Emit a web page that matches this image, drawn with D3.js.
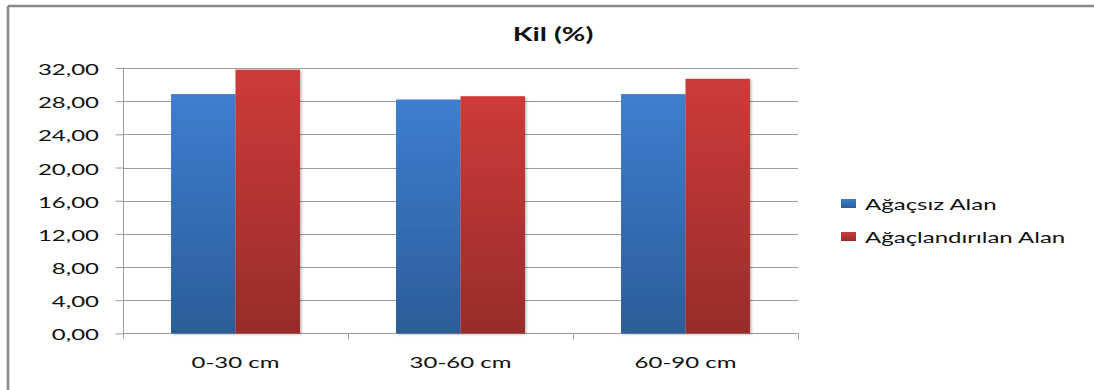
<!DOCTYPE html>
<html>
<head>
<meta charset="utf-8">
<script src="https://cdn.jsdelivr.net/npm/d3@7"></script>
<style>
  html, body { margin: 0; padding: 0; background: #fff; }
  svg { display: block; }
  text { font-family: Lato, "Open Sans", sans-serif; fill: #111; }
</style>
</head>
<body>
<svg id="chart" width="1094" height="390"></svg>
<script>
// Clay content (%) by soil depth
const categories = ["0-30 cm", "30-60 cm", "60-90 cm"];
const seriesNames = ["Ağaçsız Alan", "Ağaçlandırılan Alan"];
const agacsizAlan = [28.85, 28.2, 28.85];
const agaclandirilanAlan = [31.8, 28.6, 30.7];
const yTicks = [0, 4, 8, 12, 16, 20, 24, 28, 32];
const yTickLabels = ["0,00", "4,00", "8,00", "12,00", "16,00", "20,00", "24,00", "28,00", "32,00"];
const title = "Kil (%)";

const seriesValues = [agacsizAlan, agaclandirilanAlan];
const colors = [
  { top: "#3d7ecf", bottom: "#2c5c99" },
  { top: "#cd3b38", bottom: "#982c2a" }
];

const svg = d3.select("#chart");
const W = 1094, H = 390;
const stretch = 1.6; // wide text proportions

const plot = { left: 123, right: 798, top: 68, bottom: 333.4 };

// Frame
svg.append("line").attr("x1", 8).attr("x2", W).attr("y1", 6).attr("y2", 6)
  .attr("stroke", "#8a8a8a").attr("stroke-width", 2.4);
svg.append("line").attr("x1", 8).attr("x2", 8).attr("y1", 6).attr("y2", H)
  .attr("stroke", "#8a8a8a").attr("stroke-width", 2.6);

// Scales
const y = d3.scaleLinear().domain([0, 32]).range([plot.bottom, plot.top]);
const x0 = d3.scaleBand().domain(categories).range([plot.left, plot.right]).padding(0);
const groupFrac = 0.573;
const bw = x0.bandwidth();
const x1 = d3.scaleBand().domain(seriesNames)
  .range([bw * (1 - groupFrac) / 2, bw * (1 + groupFrac) / 2]).padding(0);

// Defs: gradients and a soft bar shadow
const defs = svg.append("defs");
colors.forEach((c, i) => {
  const g = defs.append("linearGradient").attr("id", "grad" + i)
    .attr("x1", 0).attr("y1", 0).attr("x2", 0).attr("y2", 1);
  g.append("stop").attr("offset", "0%").attr("stop-color", c.top);
  g.append("stop").attr("offset", "100%").attr("stop-color", c.bottom);
});
const f = defs.append("filter").attr("id", "shadow")
  .attr("x", "-10%").attr("y", "-5%").attr("width", "125%").attr("height", "115%");
f.append("feDropShadow").attr("dx", 1.5).attr("dy", 1).attr("stdDeviation", 1.2)
  .attr("flood-color", "#000").attr("flood-opacity", 0.28);

// Gridlines
svg.append("g").selectAll("line").data(yTicks.filter(d => d > 0)).join("line")
  .attr("x1", plot.left).attr("x2", plot.right)
  .attr("y1", d => Math.round(y(d)) + 0.5).attr("y2", d => Math.round(y(d)) + 0.5)
  .attr("stroke", "#9c9c9c").attr("stroke-width", 1);

// Y axis
const yAxis = svg.append("g").attr("transform", `translate(${plot.left + 0.5},0)`)
  .call(d3.axisLeft(y).tickValues(yTicks).tickSize(8).tickSizeOuter(0).tickFormat(""));
yAxis.select(".domain").attr("stroke", "#9c9c9c").attr("d", `M0,${plot.top}V${plot.bottom + 5}`);
yAxis.selectAll(".tick line").attr("stroke", "#9c9c9c");

svg.append("g").selectAll("text").data(yTicks).join("text")
  .attr("transform", (d) => `translate(99,${y(d) + 1}) scale(${stretch},1)`)
  .attr("text-anchor", "end").attr("dominant-baseline", "central")
  .attr("font-size", 15)
  .text((d, i) => yTickLabels[i]);

// X axis
const xAxis = svg.append("g").attr("transform", `translate(0,${Math.round(plot.bottom) + 0.5})`)
  .call(d3.axisBottom(x0).tickSize(0).tickFormat(""));
xAxis.select(".domain").attr("stroke", "#9c9c9c").attr("d", `M${plot.left},0H${plot.right}`);
xAxis.selectAll(".tick").remove();
svg.append("g").selectAll("line").data(categories).join("line")
  .attr("x1", d => Math.round(x0(d) + bw) + 0.5).attr("x2", d => Math.round(x0(d) + bw) + 0.5)
  .attr("y1", plot.bottom).attr("y2", plot.bottom + 6)
  .attr("stroke", "#9c9c9c");

svg.append("g").selectAll("text").data(categories).join("text")
  .attr("transform", d => `translate(${x0(d) + bw / 2},${362}) scale(${stretch},1)`)
  .attr("text-anchor", "middle").attr("dominant-baseline", "central")
  .attr("font-size", 15)
  .text(d => d);

// Bars
const groups = svg.append("g").selectAll("g").data(categories).join("g")
  .attr("transform", d => `translate(${x0(d)},0)`);
groups.selectAll("rect")
  .data((d, ci) => seriesNames.map((s, si) => ({ s, si, v: seriesValues[si][ci] })))
  .join("rect")
  .attr("x", d => x1(d.s))
  .attr("width", x1.bandwidth())
  .attr("y", d => y(d.v))
  .attr("height", d => y(0) - y(d.v))
  .attr("fill", d => `url(#grad${d.si})`)
  .attr("filter", "url(#shadow)");

// Title
svg.append("text")
  .attr("transform", `translate(553,34) scale(${stretch},1)`)
  .attr("text-anchor", "middle").attr("dominant-baseline", "central")
  .attr("font-size", 18).attr("font-weight", "bold")
  .text(title);

// Legend
const legend = svg.append("g").selectAll("g").data(seriesNames).join("g")
  .attr("transform", (d, i) => `translate(841,${199 + i * 33})`);
legend.append("rect").attr("width", 15).attr("height", 9)
  .attr("fill", (d, i) => `url(#grad${i})`);
legend.append("text")
  .attr("transform", `translate(24,5) scale(${stretch},1)`)
  .attr("dominant-baseline", "central")
  .attr("font-size", 15)
  .text(d => d);
</script>
</body>
</html>
